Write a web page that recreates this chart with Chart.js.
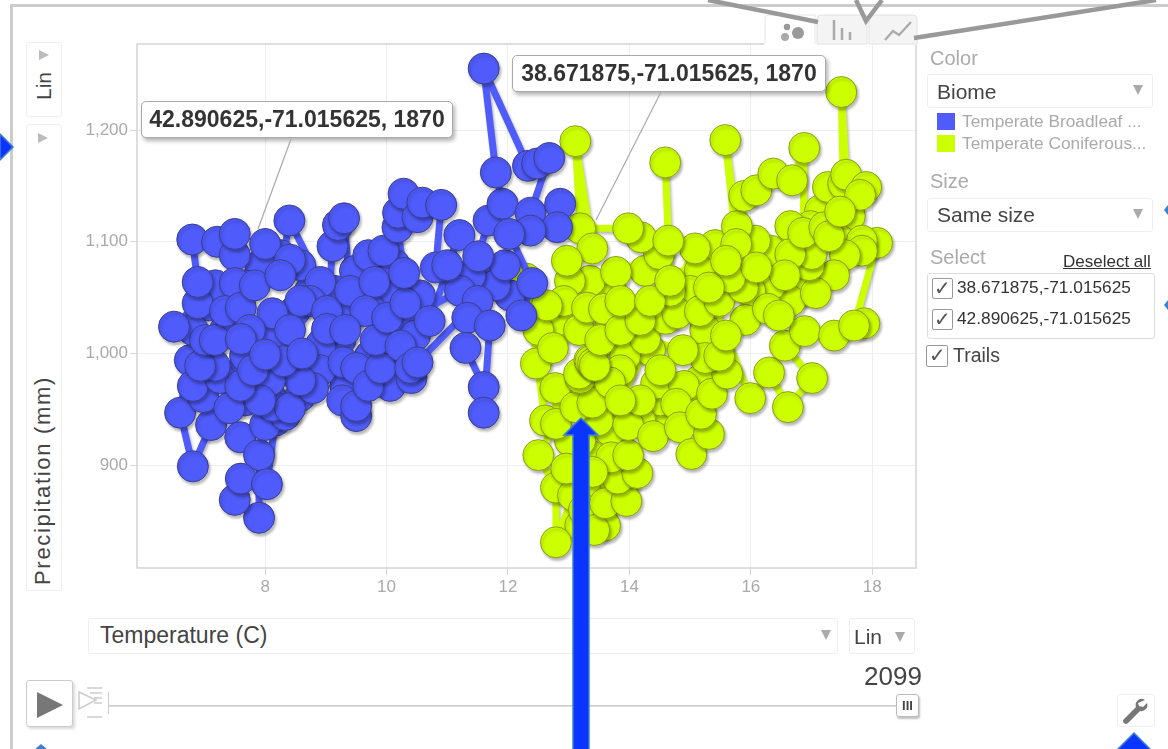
<!DOCTYPE html>
<html>
<head>
<meta charset="utf-8">
<title>Motion chart</title>
<script src="https://cdn.jsdelivr.net/npm/chart.js@4"></script>
<style>
html, body { margin: 0; padding: 0; background: #fff; }
body { width: 1168px; height: 749px; position: relative; overflow: hidden; font-family: "Liberation Sans", Arial, sans-serif; color: #333; }
canvas { position: absolute; left: 0; top: 0; }
#frame { position: absolute; left: 10px; top: 4px; width: 1170px; height: 743px; border: 3px solid #ccc; border-width: 3px 3px 2px 3px; }
#overlay { position: absolute; left: 0; top: 0; }
.box { position: absolute; box-sizing: border-box; border: 1px solid #eee; border-radius: 3px; background: #fff; }
.txt { position: absolute; white-space: nowrap; line-height: 1; }
.gray { color: #aaa; }
.tri { position: absolute; width: 0; height: 0; border-left: 5px solid transparent; border-right: 5px solid transparent; border-top: 10px solid #aaa; }
.triR { position: absolute; width: 0; height: 0; border-top: 5px solid transparent; border-bottom: 5px solid transparent; border-left: 10px solid #bbb; }
.callout { position: absolute; box-sizing: border-box; background: #fff; border: 1px solid #aaa; border-radius: 5px; box-shadow: 2px 3px 4px rgba(0,0,0,.3); font-weight: bold; font-size: 23px; color: #333; text-align: center; height: 37px; line-height: 35px; }
.check { position: absolute; box-sizing: border-box; width: 21px; height: 21px; border: 1.5px solid #999; background: #fff; border-radius: 2px; font-size: 20px; line-height: 18px; text-align: center; color: #555; }
.rot { position: absolute; transform-origin: left top; transform: rotate(-90deg); white-space: nowrap; line-height: 1; }
</style>
</head>
<body>
<canvas id="grafica" width="1168" height="749"></canvas>
<div id="frame"></div>

<div class="box" style="left:26px;top:42px;width:36px;height:75px"></div>
<div class="triR" style="left:39px;top:50px"></div>
<div class="rot" style="left:33px;top:100px;font-size:21px;color:#444">Lin</div>
<div class="box" style="left:26px;top:124px;width:36px;height:467px"></div>
<div class="triR" style="left:38px;top:133px"></div>
<div class="rot" style="left:32px;top:585px;font-size:22px;letter-spacing:1.7px;color:#444">Precipitation (mm)</div>

<div class="box" style="left:88px;top:618px;width:750px;height:36px"></div>
<div class="txt" style="left:100px;top:624px;font-size:23px;color:#444">Temperature (C)</div>
<div class="tri" style="left:821px;top:630px"></div>
<div class="box" style="left:849px;top:618px;width:66px;height:36px"></div>
<div class="txt" style="left:854px;top:626px;font-size:21px;color:#444">Lin</div>
<div class="tri" style="left:895px;top:632px"></div>
<div class="txt" style="left:864px;top:663px;font-size:26px;color:#444">2099</div>

<div class="box" style="left:26px;top:680px;width:47px;height:47px;border:1px solid #ccc;box-shadow:2px 2px 3px rgba(0,0,0,.15)"></div>
<div style="position:absolute;left:108px;top:705px;width:789px;height:1px;background:#ccc;border-bottom:1px solid #ddd"></div>
<div style="position:absolute;left:108px;top:692px;width:1px;height:22px;background:#ccc"></div>
<div class="box" style="left:896px;top:694px;width:23px;height:23px;border:1px solid #bbb;box-shadow:1px 2px 2px rgba(0,0,0,.25);font-size:13px;font-weight:bold;text-align:center;line-height:21px;color:#444">III</div>
<div class="box" style="left:1117px;top:694px;width:38px;height:33px"></div>

<div class="txt gray" style="left:930px;top:48px;font-size:20px">Color</div>
<div class="box" style="left:927px;top:74px;width:226px;height:34px"></div>
<div class="txt" style="left:937px;top:81px;font-size:21px;color:#444">Biome</div>
<div class="tri" style="left:1133px;top:85px"></div>
<div style="position:absolute;left:937px;top:113px;width:18px;height:17px;background:#4f5bfa"></div>
<div class="txt gray" style="left:962px;top:113px;font-size:17.3px">Temperate Broadleaf ...</div>
<div style="position:absolute;left:937px;top:135px;width:18px;height:17px;background:#ccff00"></div>
<div class="txt gray" style="left:962px;top:135px;font-size:17.3px">Temperate Coniferous...</div>
<div class="txt gray" style="left:930px;top:171px;font-size:20px">Size</div>
<div class="box" style="left:927px;top:198px;width:226px;height:34px"></div>
<div class="txt" style="left:937px;top:204px;font-size:21px;color:#444">Same size</div>
<div class="tri" style="left:1133px;top:209px"></div>
<div class="txt gray" style="left:930px;top:247px;font-size:20px">Select</div>
<div class="txt" style="left:1063px;top:253px;font-size:17px;text-decoration:underline;color:#333">Deselect all</div>
<div class="box" style="left:927px;top:273px;width:228px;height:66px;border:1px solid #ddd"></div>
<div class="check" style="left:932px;top:278px">&#10003;</div>
<div class="txt" style="left:957px;top:279px;font-size:17.3px">38.671875,-71.015625</div>
<div class="check" style="left:932px;top:309px">&#10003;</div>
<div class="txt" style="left:957px;top:310px;font-size:17.3px">42.890625,-71.015625</div>
<div class="check" style="left:926px;top:345px;width:22px;height:22px">&#10003;</div>
<div class="txt" style="left:953px;top:346px;font-size:19.5px;color:#444">Trails</div>

<div class="callout" style="left:141px;top:101px;width:312px">42.890625,-71.015625, 1870</div>
<div class="callout" style="left:512px;top:55px;width:314px">38.671875,-71.015625, 1870</div>

<svg id="overlay" width="1168" height="749" xmlns="http://www.w3.org/2000/svg">
  <line x1="291" y1="139" x2="258" y2="229" stroke="#aaa" stroke-width="1.2"/>
  <line x1="661" y1="92" x2="596" y2="220" stroke="#aaa" stroke-width="1.2"/>

  <!-- pestañas -->
  <rect x="764" y="40" width="153" height="5" fill="#fff"/>
  <path d="M765 44 V19 Q765 15 769 15 H815 V44" fill="#fff" stroke="#e5e5e5"/>
  <path d="M817 44 V19 Q817 15 821 15 H867 V44 Z" fill="#f4f4f4" stroke="#e2e2e2"/>
  <path d="M869 44 V15 H913 Q917 15 917 19 V44 Z" fill="#f4f4f4" stroke="#e2e2e2"/>
  <circle cx="787" cy="27" r="3.2" fill="#999"/>
  <circle cx="785" cy="37" r="4" fill="#aaa"/>
  <circle cx="798" cy="33" r="6" fill="#999"/>
  <path d="M834 20 V40 M842 28 V40 M850 32 V40" stroke="#aaa" stroke-width="2.5"/>
  <path d="M885 40 L893 31 L899 35 L911 22" fill="none" stroke="#aaa" stroke-width="2.2"/>

  <!-- líneas grises de anotación -->
  <path d="M708 0 L818 22 M856 0 L866 21 L882 0 M914 38 L1156 0" fill="none" stroke="#999" stroke-width="4.5"/>

  <!-- botones -->
  <path d="M37 692 L63 705 L37 718 Z" fill="#777"/>
  <path d="M79 692 L96 700 L79 709 Z M87 688 H102 M90 693 H102 M94 698 H102 M94 703 H102 M87 717 H102" fill="none" stroke="#ccc" stroke-width="1.5"/>
  <path d="M1145 700 a6 6 0 0 0 -9 7 l-12 12 a2.5 2.5 0 0 0 4 4 l12 -12 a6 6 0 0 0 7 -8 l-4 4 -4 -1 -1 -3 Z" fill="#777"/>

  <!-- flechas azules -->
  <path d="M573 750 V435 H564 L581 418 L598 435 H589 V750 Z" fill="#0b34ff" stroke="#3d7fd0" stroke-width="1.5"/>
  <path d="M0 134 L13 147 L0 160 Z" fill="#0b34ff" stroke="#3d7fd0" stroke-width="1.5"/>
  <path d="M1117 750 L1134 733 L1151 750 Z" fill="#0b34ff" stroke="#3d7fd0" stroke-width="1.5"/>
  <path d="M34 750 L41 744 L48 750 Z" fill="#3d7fd0"/>
  <path d="M1168 205 L1164 210 L1168 215 Z" fill="#3d7fd0"/>
  <path d="M1168 300 L1164 305 L1168 310 Z" fill="#3d7fd0"/>
</svg>

<script>
const ticksTemperatura = [8, 10, 12, 14, 16, 18];
const ticksPrecipitacion = [900, 1000, 1100, 1200];

const nombresBiomas = ['Temperate Broadleaf ...', 'Temperate Coniferous...'];

const tempBroadleaf = [12.03, 11.79, 11.95, 11.38, 11.21, 10.31, 10.06, 9.32, 9.73, 10.14, 10.47, 10.55, 9.89, 10.14, 10.14, 9.48, 9.15, 9.40, 9.24, 8.91, 8.91, 8.58, 8.08, 7.67, 6.76, 7.01, 7.34, 7.67, 8.08, 8.49, 8.74, 8.58, 8.25, 7.92, 7.06, 7.18, 7.67, 7.34, 7.09, 6.81,
    6.60, 6.81, 7.11, 6.98, 6.81, 7.26, 7.41, 7.59, 7.90, 7.90, 7.50, 7.60, 8.03, 8.17, 8.00, 8.33, 8.12, 8.41, 8.79, 8.58, 8.08, 7.92, 7.59, 7.17, 6.93, 7.01, 7.17, 6.50, 6.89, 6.89, 6.80, 7.21, 7.50, 7.50, 7.50, 7.34, 7.60, 7.83, 8.00, 8.41, 8.25, 8.40, 8.91, 8.74, 8.58, 8.12, 7.75, 7.60, 8.41, 8.30, 7.80, 8.00, 8.61, 9.02, 9.02, 9.11, 9.20, 9.30, 9.40, 9.70, 9.95, 9.80, 9.65, 9.32, 9.29, 9.50, 9.27, 9.50, 9.50, 9.70, 9.90, 9.82, 10.01, 10.31, 10.29, 10.18, 10.19, 10.28, 10.51, 10.59, 10.90, 10.81, 11.00, 11.20, 10.71, 10.23, 10.41, 10.39, 10.51, 11.50, 11.33, 11.30, 11.60, 11.60, 11.70, 11.51, 11.68, 11.91, 11.80, 11.60, 12.33, 12.48, 12.68, 12.37, 12.86, 12.81, 12.37, 12.02, 12.40, 12.22];
const precipBroadleaf = [1052, 1061, 1079, 1070, 1056, 1030, 971, 971, 998, 1007, 1016, 1052, 1038, 1056, 1079, 1074, 1056, 1034, 1012, 1007, 985, 962, 962, 958, 994, 980, 980, 998, 1016, 1038, 1056, 1079, 1088, 1079, 1043, 1061, 1061, 1021, 1007, 1021,
    947, 899, 936, 961, 971, 978, 951, 925, 909, 853, 869, 888, 883, 940, 936, 945, 953, 951, 969, 976, 976, 958, 971, 989, 989, 1012, 1012, 1024, 1045, 1064, 1102, 1100, 1088, 1107, 1063, 1038, 1041, 1061, 1098, 1084, 1070, 1119, 1064, 1047, 1047, 1036, 1021, 1013, 1021, 993, 985, 999, 1000, 1038, 1022, 1096, 1115, 1121, 1056, 1088, 1092, 1064, 1038, 1021, 992, 987, 958, 944, 953, 971, 987, 1012, 1032, 1045, 1072, 1113, 1126, 1143, 1122, 1135, 1133, 1077, 1079, 1106, 1029, 1007, 978, 987, 992, 1047, 1032, 1005, 970, 947, 1025, 1087, 1119, 1134, 1162, 1255, 1168, 1170, 1175, 1126, 1134, 1113, 1110, 1107, 1063, 1034];

const tempConiferous = [17.63, 17.47, 17.14, 16.98, 16.65, 16.32, 16.07, 15.41, 15.16, 16.81, 16.65, 16.32, 15.99, 15.91, 15.25, 15.00, 15.16, 15.00, 14.59, 14.51, 14.34, 14.01, 13.68, 13.35, 13.02, 12.86, 13.60, 13.93, 13.85, 13.52, 14.18, 13.68, 13.93, 13.60, 13.19, 13.60, 13.27, 13.11, 13.35, 13.19, 13.02, 12.61,
    12.30, 12.50, 12.46, 12.78, 12.79, 12.50, 12.79, 12.79, 13.07, 12.96, 13.25, 13.42, 13.60, 13.95, 13.81, 14.13, 13.70, 13.39, 13.98, 13.48, 13.11, 13.39, 13.19, 13.68, 13.98, 14.39, 14.44, 14.90, 14.77, 14.83, 15.02, 15.31, 15.18, 15.36, 15.61, 15.25, 14.88, 14.26, 14.60, 14.79, 15.16, 15.48, 15.48, 15.59, 15.99, 16.30, 16.61, 17.01, 16.56, 16.89, 17.37, 17.87, 17.70, 18.08, 17.83, 17.83, 17.55, 17.37, 17.07, 16.96, 17.00, 16.65, 16.56, 16.28, 16.46, 15.87, 15.66, 15.31, 14.67, 14.26, 13.78, 14.49, 14.19, 13.98, 13.19, 13.11, 13.39, 12.97, 12.92, 12.64, 12.74, 13.17, 13.30, 13.58, 13.17, 13.34, 13.36, 13.40, 13.43, 13.52, 13.85, 14.18, 13.85, 14.34, 14.51, 14.18, 13.85, 15.08, 14.64, 14.59, 14.67, 15.77, 15.58, 15.76, 15.89, 16.09, 16.37, 16.68, 16.88, 16.86, 17.21, 17.29, 17.27, 17.52, 17.49, 17.57, 17.90, 17.80, 17.47, 16.09, 15.59];
const precipConiferous = [1123, 1101, 1128, 1114, 1114, 1092, 1101, 1097, 1074, 1056, 1047, 1061, 1056, 1030, 1021, 1056, 976, 958, 940, 958, 1003, 1038, 1061, 1065, 1065, 1030, 1012, 998, 985, 958, 940, 931, 886, 846, 846, 886, 878, 895, 909, 922, 922, 940,
    1067, 1021, 991, 969, 937, 909, 880, 831, 873, 897, 860, 842, 866, 868, 888, 893, 907, 894, 909, 940, 952, 956, 978, 974, 936, 926, 973, 971, 955, 934, 910, 928, 946, 964, 982, 996, 1003, 1013, 1031, 1036, 1038, 1047, 998, 1016, 960, 983, 952, 978, 1007, 1020, 1016, 1027, 1025, 1099, 1101, 1092, 1088, 1070, 1054, 1079, 1089, 1089, 1070, 1040, 1034, 1059, 1068, 1059, 1056, 1074, 1073, 1089, 1104, 1112, 1112, 1190, 1094, 1083, 1047, 1043, 1005, 1021, 1041, 1040, 982, 994, 993, 991, 989, 1012, 1021, 1030, 1047, 1047, 985, 958, 958, 1094, 1101, 1171, 1065, 1114, 1191, 1098, 1141, 1146, 1161, 1155, 1184, 1108, 1113, 1105, 1149, 1152, 1234, 1160, 1149, 1142, 1127, 1077, 1083];

const COLORES = {
    azul: '#4f5bfa',
    azulBorde: '#3a3f8c',
    verde: '#ccff00',
    verdeBorde: '#8c9e1e',
    rejilla: '#eeeeee',
    eje: '#d4d4d4',
    texto: '#aaaaaa'
};

const aPuntos = (xs, ys) => xs.map((x, i) => ({ x: x, y: ys[i] }));

// sombra de las burbujas y marco del area de trazado
const pluginEstilo = {
    id: 'estilo',
    beforeDatasetsDraw(chart) {
        const { ctx, chartArea: a } = chart;
        ctx.save();
        ctx.strokeStyle = COLORES.eje;
        ctx.lineWidth = 1.5;
        ctx.strokeRect(a.left, a.top, a.right - a.left, a.bottom - a.top);
        ctx.restore();
    },
    beforeDatasetDraw(chart) {
        const { ctx } = chart;
        ctx.shadowColor = 'rgba(0,0,0,0.28)';
        ctx.shadowBlur = 3;
        ctx.shadowOffsetX = 1.5;
        ctx.shadowOffsetY = 2.5;
    },
    afterDatasetDraw(chart) {
        const { ctx } = chart;
        ctx.shadowColor = 'transparent';
        ctx.shadowBlur = 0;
        ctx.shadowOffsetX = 0;
        ctx.shadowOffsetY = 0;
    }
};

const serie = (nombre, xs, ys, color, borde) => ({
    label: nombre,
    data: aPuntos(xs, ys),
    showLine: true,
    borderColor: color,
    borderWidth: 7,
    borderJoinStyle: 'round',
    tension: 0,
    pointBackgroundColor: color,
    pointBorderColor: borde,
    pointBorderWidth: 1,
    pointRadius: 15.5
});

new Chart(document.getElementById('grafica'), {
    type: 'scatter',
    data: {
        datasets: [
            serie(nombresBiomas[0], tempBroadleaf, precipBroadleaf, COLORES.azul, COLORES.azulBorde),
            serie(nombresBiomas[1], tempConiferous, precipConiferous, COLORES.verde, COLORES.verdeBorde)
        ]
    },
    options: {
        responsive: false,
        animation: false,
        events: [],
        layout: { padding: { left: 77, right: 252, top: 44, bottom: 141 } },
        plugins: { legend: { display: false }, tooltip: { enabled: false } },
        scales: {
            x: {
                type: 'linear',
                min: 5.89,
                max: 18.72,
                afterFit: (escala) => { escala.height = 40; },
                afterBuildTicks: (escala) => { escala.ticks = ticksTemperatura.map(v => ({ value: v })); },
                grid: { color: COLORES.rejilla, tickColor: COLORES.eje, tickLength: 7, lineWidth: 1 },
                border: { display: false },
                ticks: { color: COLORES.texto, font: { family: 'Liberation Sans', size: 17 }, padding: 2, maxRotation: 0, autoSkip: false }
            },
            y: {
                type: 'linear',
                min: 808,
                max: 1277,
                afterFit: (escala) => { escala.width = 60; },
                afterBuildTicks: (escala) => { escala.ticks = ticksPrecipitacion.map(v => ({ value: v })); },
                grid: { color: COLORES.rejilla, tickColor: COLORES.eje, tickLength: 7, lineWidth: 1 },
                border: { display: false },
                ticks: {
                    color: COLORES.texto,
                    font: { family: 'Liberation Sans', size: 17 },
                    padding: 2,
                    autoSkip: false,
                    callback: (v) => v.toLocaleString('en-US')
                }
            }
        }
    },
    plugins: [pluginEstilo]
});
</script>
</body>
</html>
